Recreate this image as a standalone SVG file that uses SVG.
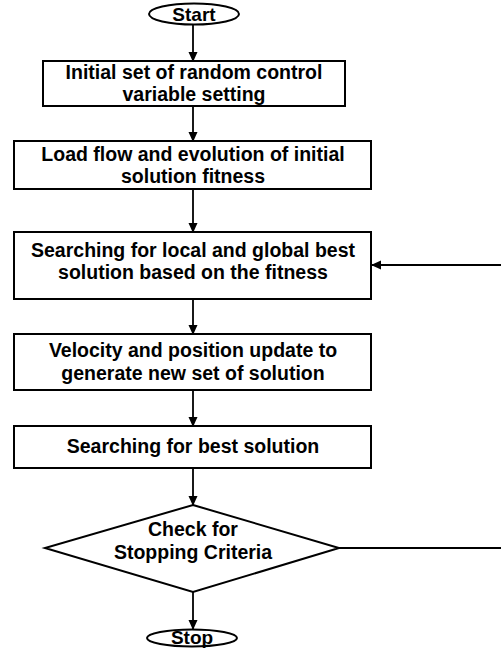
<svg xmlns="http://www.w3.org/2000/svg" width="501" height="648" viewBox="0 0 501 648">
  <defs>
    <marker id="arrow" markerWidth="10" markerHeight="10" refX="9" refY="5" orient="auto" markerUnits="userSpaceOnUse">
      <path d="M0,0.5 L10,5 L0,9.5 Z" fill="#000"/>
    </marker>
    <style>
      .shape { fill: #fff; stroke: #000; stroke-width: 2; }
      .label { font-family: "Liberation Sans", Arial, sans-serif; font-weight: bold; font-size: 19.5px; fill: #000; text-anchor: middle; }
      .term { font-size: 19px; }
      .conn-arrow { fill: none; stroke: #000; stroke-width: 1.8; marker-end: url(#arrow); }
    </style>
  </defs>
  <rect width="501" height="648" fill="#fff"/>

  <!-- connectors -->
  <g id="connectors">
    <line class="conn-arrow" x1="193" y1="25" x2="193" y2="61"/>
    <line class="conn-arrow" x1="193" y1="106" x2="193" y2="141"/>
    <line class="conn-arrow" x1="193" y1="189" x2="193" y2="232"/>
    <line class="conn-arrow" x1="193" y1="299" x2="193" y2="334"/>
    <line class="conn-arrow" x1="193" y1="390" x2="193" y2="426"/>
    <line class="conn-arrow" x1="193" y1="468" x2="193" y2="505"/>
    <line class="conn-arrow" x1="193" y1="592" x2="193" y2="629"/>
    <!-- loop back from the decision to the best-solution search -->
    <polyline class="conn-arrow" points="339,548 504,548 504,265 372,265"/>
  </g>

  <g id="start">
    <ellipse class="shape" cx="194" cy="14" rx="45" ry="10.5"/>
    <text class="label term" x="194" y="21">Start</text>
  </g>

  <g id="init">
    <rect class="shape" x="43" y="61" width="302" height="45"/>
    <text class="label" x="194" y="79">Initial set of random control<tspan x="194" dy="22">variable setting</tspan></text>
  </g>

  <g id="loadflow">
    <rect class="shape" x="14" y="141" width="357" height="48"/>
    <text class="label" x="193" y="161">Load flow and evolution of initial<tspan x="193" dy="22">solution fitness</tspan></text>
  </g>

  <g id="search-best">
    <rect class="shape" x="14" y="232" width="357" height="67"/>
    <text class="label" x="193" y="257">Searching for local and global best<tspan x="193" dy="22">solution based on the fitness</tspan></text>
  </g>

  <g id="update">
    <rect class="shape" x="14" y="334" width="357" height="56"/>
    <text class="label" x="193" y="357">Velocity and position update to<tspan x="193" dy="23">generate new set of solution</tspan></text>
  </g>

  <g id="best">
    <rect class="shape" x="14" y="426" width="357" height="42"/>
    <text class="label" x="193" y="453">Searching for best solution</text>
  </g>

  <g id="check">
    <polygon class="shape" points="193,505 339,548 193,592 45,548"/>
    <text class="label" x="193" y="536">Check for<tspan x="193" dy="23">Stopping Criteria</tspan></text>
  </g>

  <g id="stop">
    <ellipse class="shape" cx="192" cy="638" rx="45" ry="8.5"/>
    <text class="label term" x="192" y="643.5">Stop</text>
  </g>
</svg>
